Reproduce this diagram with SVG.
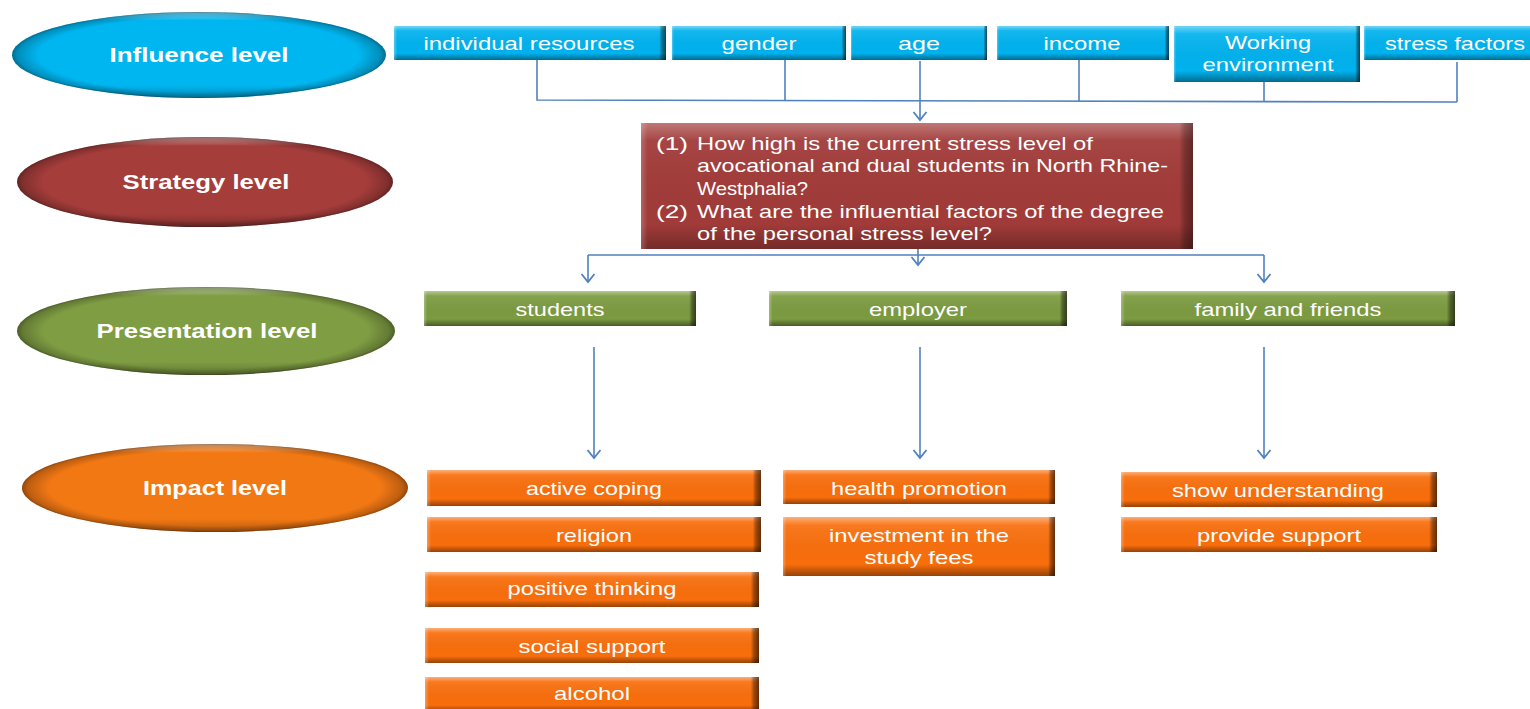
<svg xmlns="http://www.w3.org/2000/svg" width="1530" height="709" viewBox="0 0 1530 709">
<defs>
<linearGradient id="bv" x1="0" y1="0" x2="0" y2="1">
<stop offset="0" stop-color="#fff" stop-opacity="0.45"/>
<stop offset="0.14" stop-color="#fff" stop-opacity="0.08"/>
<stop offset="0.8" stop-color="#000" stop-opacity="0"/>
<stop offset="1" stop-color="#000" stop-opacity="0.4"/>
</linearGradient>
<linearGradient id="bh" x1="0" y1="0" x2="1" y2="0">
<stop offset="0" stop-color="#fff" stop-opacity="0.3"/>
<stop offset="0.012" stop-color="#fff" stop-opacity="0"/>
<stop offset="0.975" stop-color="#000" stop-opacity="0"/>
<stop offset="0.985" stop-color="#000" stop-opacity="0.35"/>
<stop offset="1" stop-color="#000" stop-opacity="0.6"/>
</linearGradient>
<radialGradient id="er" cx="0.5" cy="0.5" r="0.5">
<stop offset="0.86" stop-color="#000" stop-opacity="0"/>
<stop offset="0.97" stop-color="#000" stop-opacity="0.22"/>
<stop offset="1" stop-color="#000" stop-opacity="0.4"/>
</radialGradient>
<linearGradient id="ev" x1="0" y1="0" x2="0" y2="1">
<stop offset="0" stop-color="#fff" stop-opacity="0.5"/>
<stop offset="0.1" stop-color="#fff" stop-opacity="0"/>
<stop offset="0.85" stop-color="#000" stop-opacity="0"/>
<stop offset="1" stop-color="#000" stop-opacity="0.25"/>
</linearGradient>
<marker id="arr" markerUnits="userSpaceOnUse" markerWidth="14" markerHeight="16" refX="11" refY="8" orient="auto" viewBox="0 0 14 16">
<path d="M3,1.5 L11,8 L3,14.5" fill="none" stroke="#4f81bd" stroke-width="1.8"/>
</marker>
</defs>
<style>
text{font-family:"Liberation Sans",Arial,sans-serif;fill:#fff;text-anchor:middle;}
.el{font-size:20px;font-weight:bold;}
.bx{font-size:19px;}
.rq{font-size:19px;text-anchor:start;}
.blue{fill:#00b2ee;}
.red{fill:#a13b39;}
.green{fill:#7c9b40;}
.orange{fill:#f96e0c;}
.eblue{fill:#00b6f0;}
.ered{fill:#a53d3b;}
.egreen{fill:#7f9d43;}
.eorange{fill:#f27814;}
.sv{fill:url(#bv);}
.sh{fill:url(#bh);}
.er{fill:url(#er);}
.ev{fill:url(#ev);}
.ln{fill:none;stroke:#4f81bd;stroke-width:1.6;}
</style>
<rect width="1530" height="709" fill="#fff"/>

<g id="connectors">
<path class="ln" d="M537,60 V100 L1457,102"/>
<path class="ln" d="M785,60 V100.5"/>
<path class="ln" d="M1079,60 V101"/>
<path class="ln" d="M1264,82 V102"/>
<path class="ln" d="M1457,62 V102"/>
<path class="ln" d="M920,61 V120" marker-end="url(#arr)"/>
<path class="ln" d="M588,255 H1264"/>
<path class="ln" d="M588,255 V282" marker-end="url(#arr)"/>
<path class="ln" d="M1264,255 V282" marker-end="url(#arr)"/>
<path class="ln" d="M918,249 V265" marker-end="url(#arr)"/>
<path class="ln" d="M594,347 V458" marker-end="url(#arr)"/>
<path class="ln" d="M920,347 V458" marker-end="url(#arr)"/>
<path class="ln" d="M1264,347 V458" marker-end="url(#arr)"/>
</g>

<g id="influence-level">
<ellipse class="eblue" cx="199" cy="55" rx="187" ry="43"/>
<ellipse class="ev" cx="199" cy="55" rx="187" ry="43"/>
<ellipse class="er" cx="199" cy="55" rx="187" ry="43"/>
<text class="el" x="199" y="62" textLength="179" lengthAdjust="spacingAndGlyphs">Influence level</text>
</g>
<g id="strategy-level">
<ellipse class="ered" cx="205" cy="182" rx="188" ry="45"/>
<ellipse class="ev" cx="205" cy="182" rx="188" ry="45"/>
<ellipse class="er" cx="205" cy="182" rx="188" ry="45"/>
<text class="el" x="206" y="189" textLength="167" lengthAdjust="spacingAndGlyphs">Strategy level</text>
</g>
<g id="presentation-level">
<ellipse class="egreen" cx="206" cy="331" rx="189" ry="44"/>
<ellipse class="ev" cx="206" cy="331" rx="189" ry="44"/>
<ellipse class="er" cx="206" cy="331" rx="189" ry="44"/>
<text class="el" x="207" y="338" textLength="221" lengthAdjust="spacingAndGlyphs">Presentation level</text>
</g>
<g id="impact-level">
<ellipse class="eorange" cx="215" cy="488" rx="193" ry="44"/>
<ellipse class="ev" cx="215" cy="488" rx="193" ry="44"/>
<ellipse class="er" cx="215" cy="488" rx="193" ry="44"/>
<text class="el" x="215" y="495" textLength="144" lengthAdjust="spacingAndGlyphs">Impact level</text>
</g>

<g id="individual-resources">
<rect class="blue" x="394" y="26" width="272" height="34"/>
<rect class="sv" x="394" y="26" width="272" height="34"/>
<rect class="sh" x="394" y="26" width="272" height="34"/>
<text class="bx" x="529" y="50" textLength="211" lengthAdjust="spacingAndGlyphs">individual resources</text>
</g>
<g id="gender">
<rect class="blue" x="672" y="26" width="174" height="34"/>
<rect class="sv" x="672" y="26" width="174" height="34"/>
<rect class="sh" x="672" y="26" width="174" height="34"/>
<text class="bx" x="759" y="50" textLength="75" lengthAdjust="spacingAndGlyphs">gender</text>
</g>
<g id="age">
<rect class="blue" x="851" y="26" width="136" height="34"/>
<rect class="sv" x="851" y="26" width="136" height="34"/>
<rect class="sh" x="851" y="26" width="136" height="34"/>
<text class="bx" x="919" y="50" textLength="42" lengthAdjust="spacingAndGlyphs">age</text>
</g>
<g id="income">
<rect class="blue" x="997" y="26" width="172" height="34"/>
<rect class="sv" x="997" y="26" width="172" height="34"/>
<rect class="sh" x="997" y="26" width="172" height="34"/>
<text class="bx" x="1082" y="50" textLength="77" lengthAdjust="spacingAndGlyphs">income</text>
</g>
<g id="working-environment">
<rect class="blue" x="1174" y="26" width="186" height="56"/>
<rect class="sv" x="1174" y="26" width="186" height="56"/>
<rect class="sh" x="1174" y="26" width="186" height="56"/>
<text class="bx" x="1268" y="49" textLength="86" lengthAdjust="spacingAndGlyphs">Working</text>
<text class="bx" x="1268" y="71" textLength="131" lengthAdjust="spacingAndGlyphs">environment</text>
</g>
<g id="stress-factors">
<rect class="blue" x="1364" y="26" width="180" height="34"/>
<rect class="sv" x="1364" y="26" width="180" height="34"/>
<rect class="sh" x="1364" y="26" width="180" height="34"/>
<text class="bx" x="1455" y="50" textLength="140" lengthAdjust="spacingAndGlyphs">stress factors</text>
</g>

<g id="research-questions">
<rect class="red" x="641" y="123" width="552" height="126"/>
<rect class="sv" x="641" y="123" width="552" height="126" style="opacity:0.7"/>
<rect class="sh" x="641" y="123" width="552" height="126" style="opacity:0.7"/>
<text class="rq" x="656" y="150" textLength="32" lengthAdjust="spacingAndGlyphs">(1)</text>
<text class="rq" x="697" y="150" textLength="396" lengthAdjust="spacingAndGlyphs">How high is the current stress level of</text>
<text class="rq" x="697" y="172" textLength="471" lengthAdjust="spacingAndGlyphs">avocational and dual students in North Rhine-</text>
<text class="rq" x="697" y="195" textLength="111" lengthAdjust="spacingAndGlyphs">Westphalia?</text>
<text class="rq" x="656" y="218" textLength="32" lengthAdjust="spacingAndGlyphs">(2)</text>
<text class="rq" x="697" y="218" textLength="467" lengthAdjust="spacingAndGlyphs">What are the influential factors of the degree</text>
<text class="rq" x="697" y="240" textLength="295" lengthAdjust="spacingAndGlyphs">of the personal stress level?</text>
</g>

<g id="students">
<rect class="green" x="424" y="291" width="272" height="35"/>
<rect class="sv" x="424" y="291" width="272" height="35"/>
<rect class="sh" x="424" y="291" width="272" height="35"/>
<text class="bx" x="560" y="316" textLength="89" lengthAdjust="spacingAndGlyphs">students</text>
</g>
<g id="employer">
<rect class="green" x="769" y="291" width="298" height="35"/>
<rect class="sv" x="769" y="291" width="298" height="35"/>
<rect class="sh" x="769" y="291" width="298" height="35"/>
<text class="bx" x="918" y="316" textLength="98" lengthAdjust="spacingAndGlyphs">employer</text>
</g>
<g id="family-and-friends">
<rect class="green" x="1121" y="291" width="334" height="35"/>
<rect class="sv" x="1121" y="291" width="334" height="35"/>
<rect class="sh" x="1121" y="291" width="334" height="35"/>
<text class="bx" x="1288" y="316" textLength="187" lengthAdjust="spacingAndGlyphs">family and friends</text>
</g>

<g id="active-coping">
<rect class="orange" x="427" y="470" width="334" height="36"/>
<rect class="sv" x="427" y="470" width="334" height="36"/>
<rect class="sh" x="427" y="470" width="334" height="36"/>
<text class="bx" x="594" y="495" textLength="136" lengthAdjust="spacingAndGlyphs">active coping</text>
</g>
<g id="religion">
<rect class="orange" x="427" y="517" width="334" height="35"/>
<rect class="sv" x="427" y="517" width="334" height="35"/>
<rect class="sh" x="427" y="517" width="334" height="35"/>
<text class="bx" x="594" y="542" textLength="76" lengthAdjust="spacingAndGlyphs">religion</text>
</g>
<g id="positive-thinking">
<rect class="orange" x="425" y="572" width="334" height="35"/>
<rect class="sv" x="425" y="572" width="334" height="35"/>
<rect class="sh" x="425" y="572" width="334" height="35"/>
<text class="bx" x="592" y="595" textLength="169" lengthAdjust="spacingAndGlyphs">positive thinking</text>
</g>
<g id="social-support">
<rect class="orange" x="425" y="628" width="334" height="35"/>
<rect class="sv" x="425" y="628" width="334" height="35"/>
<rect class="sh" x="425" y="628" width="334" height="35"/>
<text class="bx" x="592" y="653" textLength="147" lengthAdjust="spacingAndGlyphs">social support</text>
</g>
<g id="alcohol">
<rect class="orange" x="425" y="677" width="334" height="35"/>
<rect class="sv" x="425" y="677" width="334" height="35"/>
<rect class="sh" x="425" y="677" width="334" height="35"/>
<text class="bx" x="592" y="700" textLength="76" lengthAdjust="spacingAndGlyphs">alcohol</text>
</g>
<g id="health-promotion">
<rect class="orange" x="783" y="470" width="272" height="34"/>
<rect class="sv" x="783" y="470" width="272" height="34"/>
<rect class="sh" x="783" y="470" width="272" height="34"/>
<text class="bx" x="919" y="495" textLength="176" lengthAdjust="spacingAndGlyphs">health promotion</text>
</g>
<g id="investment-in-the-study-fees">
<rect class="orange" x="783" y="517" width="272" height="59"/>
<rect class="sv" x="783" y="517" width="272" height="59"/>
<rect class="sh" x="783" y="517" width="272" height="59"/>
<text class="bx" x="919" y="542" textLength="180" lengthAdjust="spacingAndGlyphs">investment in the</text>
<text class="bx" x="919" y="564" textLength="109" lengthAdjust="spacingAndGlyphs">study fees</text>
</g>
<g id="show-understanding">
<rect class="orange" x="1121" y="472" width="316" height="35"/>
<rect class="sv" x="1121" y="472" width="316" height="35"/>
<rect class="sh" x="1121" y="472" width="316" height="35"/>
<text class="bx" x="1278" y="497" textLength="212" lengthAdjust="spacingAndGlyphs">show understanding</text>
</g>
<g id="provide-support">
<rect class="orange" x="1121" y="517" width="316" height="35"/>
<rect class="sv" x="1121" y="517" width="316" height="35"/>
<rect class="sh" x="1121" y="517" width="316" height="35"/>
<text class="bx" x="1279" y="542" textLength="164" lengthAdjust="spacingAndGlyphs">provide support</text>
</g>
</svg>
